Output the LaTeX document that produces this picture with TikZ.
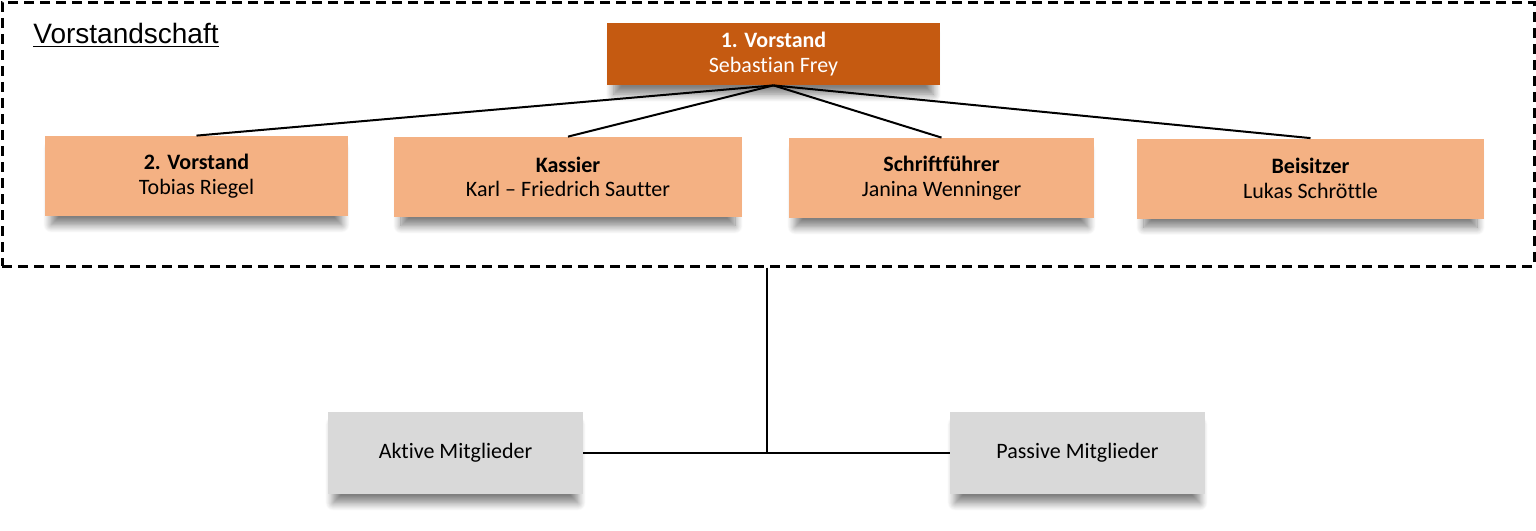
\documentclass[tikz,border=0pt]{standalone}
\usepackage{fontspec}
\setmainfont{Carlito}[Ligatures=CommonOff]
\newfontfamily\arialf{Liberation Sans}
\usetikzlibrary{shadows.blur}
\definecolor{darkor}{HTML}{C55A11}
\definecolor{lightor}{HTML}{F4B183}
\definecolor{lgray}{HTML}{D9D9D9}
\begin{document}
\begin{tikzpicture}[x=0.5pt,y=-0.5pt,
  boxbase/.style={rectangle, inner sep=0pt, align=center,
    font=\fontsize{11}{12.3}\selectfont,
    blur shadow={shadow xshift=0pt, shadow yshift=-5.5pt, shadow scale=0.96, shadow blur radius=4pt, shadow blur steps=10, shadow opacity=50}},
  topbox/.style={boxbase, fill=darkor, text=white, minimum width=166.5pt, minimum height=31pt},
  midbox/.style={boxbase, fill=lightor, text=black, minimum height=40pt},
  botbox/.style={boxbase, fill=lgray, text=black, minimum width=127.5pt, minimum height=41pt},
  conn/.style={draw=black, line width=1pt}]
\useasboundingbox (0,0) rectangle (1536,530);

\node[draw=black, line width=1.5pt, dash pattern=on 5pt off 3pt,
  minimum width=766pt, minimum height=132pt, inner sep=0pt] (vs) at (768,134) {};
\node[anchor=base west, inner sep=0pt, font=\arialf\fontsize{14}{16}\selectfont] (title) at (33,43) {\underline{Vorstandschaft}};

\node[topbox] (v1) at (773.5,54) {\textbf{1. Vorstand}\\Sebastian Frey};
\node[midbox, minimum width=151.5pt] (v2) at (196.5,176) {\textbf{2. Vorstand}\\Tobias Riegel};
\node[midbox, minimum width=174pt] (ka) at (568,177) {\textbf{Kassier}\\Karl – Friedrich Sautter};
\node[midbox, minimum width=152.5pt] (sf) at (941.5,178) {\textbf{Schriftführer}\\Janina Wenninger};
\node[midbox, minimum width=173.5pt] (be) at (1310.5,178.5) {\textbf{Beisitzer}\\Lukas Schröttle};

\node[botbox] (ak) at (455.5,453) {Aktive Mitglieder};
\node[botbox] (pa) at (1077.5,453) {Passive Mitglieder};

\draw[conn] (v1.south) -- (v2.north);
\draw[conn] (v1.south) -- (ka.north);
\draw[conn] (v1.south) -- (sf.north);
\draw[conn] (v1.south) -- (be.north);

\coordinate (j) at (767,453);
\draw[conn] (vs.south -| j) -- (j);
\draw[conn] (ak.east) -- (pa.west);
\end{tikzpicture}
\end{document}
